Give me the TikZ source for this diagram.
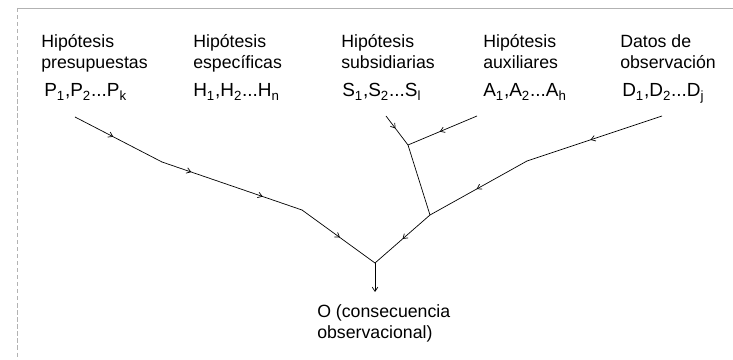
\documentclass[tikz,border=0pt]{standalone}
\usepackage{fontspec}
\setmainfont{Liberation Sans}
\usetikzlibrary{arrows.meta, decorations.markings, positioning}

\begin{document}
\begin{tikzpicture}[
    x=0.025cm, y=-0.025cm,
    label/.style={anchor=base west, align=left, inner sep=0pt, font=\fontsize{12.6}{15.6}\selectfont},
    sym/.style={anchor=base west, inner sep=0pt, font=\fontsize{13.5}{15}\selectfont},
    link/.style={line width=0.5pt},
    midarrow/.style={postaction={decorate, decoration={markings,
        mark=at position #1 with {\arrow{Straight Barb[length=3pt,width=4pt]}}}}},
    midarrow/.default=0.5
]
    \useasboundingbox (0,0) rectangle (733,360);
    % frame of the page
    \draw[gray!60, line width=0.4pt] (17,8) -- (733,8);
    \draw[gray!60, line width=0.4pt, densely dashed] (17,8) -- (17,360);

    % column heads (base = second line)
    \node[label] (lblP) at (41,69) {Hipótesis\\presupuestas};
    \node[label] (lblH) at (193,69) {Hipótesis\\específicas};
    \node[label] (lblS) at (341,69) {Hipótesis\\subsidiarias};
    \node[label] (lblA) at (483,69) {Hipótesis\\auxiliares};
    \node[label] (lblD) at (620,69) {Datos de\\observación};

    % symbols
    \node[sym] (symP) at (44,97) {P\textsubscript{1},P\textsubscript{2}...P\textsubscript{k}};
    \node[sym] (symH) at (193,97) {H\textsubscript{1},H\textsubscript{2}...H\textsubscript{n}};
    \node[sym] (symS) at (342,97) {S\textsubscript{1},S\textsubscript{2}...S\textsubscript{l}};
    \node[sym] (symA) at (483,97) {A\textsubscript{1},A\textsubscript{2}...A\textsubscript{h}};
    \node[sym] (symD) at (622,97) {D\textsubscript{1},D\textsubscript{2}...D\textsubscript{j}};

    % result
    \node[label] (out) at (317,339) {O (consecuencia\\observacional)};

    % start, bend and junction points
    \coordinate (p0) at (75,117);
    \coordinate (p1) at (162,162);
    \coordinate (p2) at (302,210);
    \coordinate (s0) at (386,116);
    \coordinate (a0) at (477,116);
    \coordinate (j1) at (408,145);
    \coordinate (d0) at (662,116);
    \coordinate (d1) at (527,161);
    \coordinate (j2) at (430,215);
    \coordinate (o) at (375,263);
    \coordinate (oend) at (375,292);

    % left branch
    \draw[link, midarrow=0.44] (p0) -- (p1);
    \draw[link, midarrow=0.21, midarrow=0.72] (p1) -- (p2);
    \draw[link, midarrow=0.52] (p2) -- (o);

    % right branch
    \draw[link, midarrow=0.43] (s0) -- (j1);
    \draw[link, midarrow=0.54] (a0) -- (j1);
    \draw[link] (j1) -- (j2);
    \draw[link, midarrow=0.53] (d0) -- (d1);
    \draw[link, midarrow=0.52] (d1) -- (j2);
    \draw[link, midarrow=0.5] (j2) -- (o);

    % to the consequence
    \draw[link, -{Straight Barb[length=3pt,width=4pt]}] (o) -- (oend);
\end{tikzpicture}
\end{document}
